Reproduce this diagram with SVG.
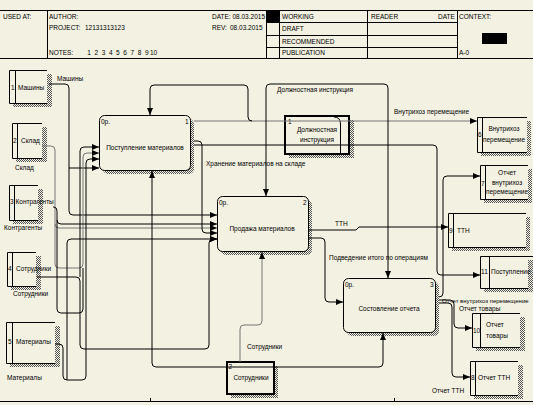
<svg xmlns="http://www.w3.org/2000/svg" width="533" height="405" viewBox="0 0 533 405">
<defs>
<pattern id="h" width="2" height="2" patternUnits="userSpaceOnUse"><rect width="2" height="2" fill="#f3f1e2"/><rect width="1" height="1" fill="#555"/><rect x="1" y="1" width="1" height="1" fill="#555"/></pattern>
<marker id="a" markerWidth="7" markerHeight="6" refX="7" refY="3" orient="auto" markerUnits="userSpaceOnUse"><path d="M0,0 L7,3 L0,6 z" fill="#000"/></marker>
</defs>
<style>
text{font-family:"Liberation Sans",Arial,sans-serif;font-size:6.5px;fill:#000}
.mid{text-anchor:middle}
.ln{fill:none;stroke:#000;stroke-width:1}
.g{stroke:#777}
.ar{marker-end:url(#a)}
.bx{fill:none;stroke:#000;stroke-width:1}
.act{fill:#f3f1e2;stroke:#000;stroke-width:1}
.tk{fill:#f3f1e2;stroke:#000;stroke-width:2}
.sh{fill:url(#h)}
</style>
<rect width="533" height="405" fill="#f3f1e2"/>

<g id="header">
<path class="bx" d="M0,10.5 H533 M0,58.5 H533 M47.5,10 V58 M266.5,10 V58 M279.5,10 V58 M367.5,10 V58 M457.5,10 V58 M266,22.5 H457 M266,35.5 H457 M266,47.5 H457"/>
<rect x="267" y="11" width="12" height="11" fill="#000"/>
<rect x="482" y="33" width="25" height="11" fill="#000"/>
<text x="3" y="18.5">USED AT:</text>
<text x="49" y="18.5">AUTHOR:</text>
<text x="49" y="29.5">PROJECT:</text><text x="85" y="29.5">12131313123</text>
<text x="49" y="55">NOTES:</text>
<text y="55"><tspan x="87.3">1</tspan><tspan x="94.5">2</tspan><tspan x="101.7">3</tspan><tspan x="108.9">4</tspan><tspan x="116.1">5</tspan><tspan x="123.3">6</tspan><tspan x="130.5">7</tspan><tspan x="137.7">8</tspan><tspan x="144.9">9</tspan><tspan x="150">10</tspan></text>
<text x="212" y="18.5" textLength="53" lengthAdjust="spacingAndGlyphs">DATE: 08.03.2015</text>
<text x="212" y="29.5">REV:</text><text x="230" y="29.5">08.03.2015</text>
<text x="282" y="18.5">WORKING</text>
<text x="282" y="31">DRAFT</text>
<text x="282" y="43.5">RECOMMENDED</text>
<text x="282" y="55">PUBLICATION</text>
<text x="371" y="18.5">READER</text>
<text x="438" y="18.5">DATE</text>
<text x="459" y="18.5">CONTEXT:</text>
<text x="459" y="55">A-0</text>
</g>

<g id="ext1">
<rect class="sh" x="47" y="74" width="5" height="33"/><rect class="sh" x="13" y="103" width="39" height="4"/>
<path class="bx" d="M47,70.5 H9.5 V103.5 H47 M15.5,70 V103"/>
<text x="11" y="90">1</text><text x="18" y="90">Машины</text>
<text x="57" y="81">Машины</text>
</g>
<g id="ext2">
<rect class="sh" x="42" y="127" width="5" height="35"/><rect class="sh" x="16" y="158" width="31" height="4"/>
<path class="bx" d="M42,123.5 H12.5 V158.5 H42 M17.5,123 V158"/>
<text x="13" y="143">2</text><text x="21" y="143">Склад</text>
<text x="15" y="170">Склад</text>
</g>
<g id="ext3">
<rect class="sh" x="38" y="189" width="5" height="35"/><rect class="sh" x="13" y="220" width="30" height="4"/>
<path class="bx" d="M38,185.5 H9.5 V220.5 H38 M14.5,185 V220"/>
<text x="10" y="204">3</text><text x="15.5" y="204">Контрагенты</text>
<text x="4" y="230">Контрагенты</text>
</g>
<g id="ext4">
<rect class="sh" x="36" y="256" width="5" height="34"/><rect class="sh" x="11" y="286" width="30" height="4"/>
<path class="bx" d="M36,252.5 H7.5 V286.5 H36 M12.5,252 V286"/>
<text x="8" y="271">4</text><text x="16" y="271">Сотрудники</text>
<text x="13" y="296">Сотрудники</text>
</g>
<g id="ext5">
<rect class="sh" x="55" y="326" width="5" height="41"/><rect class="sh" x="10" y="363" width="50" height="4"/>
<path class="bx" d="M55,322.5 H6.5 V363.5 H55 M12.5,322 V363"/>
<text x="8" y="344">5</text><text x="16" y="344">Материалы</text>
<text x="7" y="380">Материалы</text>
</g>

<g id="ext6">
<rect class="sh" x="527" y="121" width="4" height="35"/><rect class="sh" x="481" y="152" width="50" height="4"/>
<path class="bx" d="M527,117.5 H477.5 V152.5 H527 M482.5,117 V152"/>
<text x="478" y="137">6</text>
<text class="mid" x="504" y="131">Внутрихоз</text><text class="mid" x="504" y="142">перемещение</text>
</g>
<g id="ext7">
<rect class="sh" x="528" y="169" width="4" height="34"/><rect class="sh" x="484" y="199" width="48" height="4"/>
<path class="bx" d="M528,165.5 H480.5 V199.5 H528 M485.5,165 V199"/>
<text x="481" y="186">7</text>
<text class="mid" x="507" y="175">Отчет</text><text class="mid" x="507" y="184.5">внутрихоз</text><text class="mid" x="507" y="194">перемещение</text>
</g>
<g id="ext9">
<rect class="sh" x="526" y="217" width="4" height="34"/><rect class="sh" x="452" y="247" width="78" height="4"/>
<path class="bx" d="M526,213.5 H448.5 V247.5 H526 M453.5,213 V247"/>
<text x="449" y="233">9</text><text x="457" y="233">ТТН</text>
</g>
<g id="ext11">
<rect class="sh" x="528" y="260" width="5" height="32"/><rect class="sh" x="484" y="288" width="49" height="4"/>
<path class="bx" d="M533,256.5 H480.5 V288.5 H528 M489.5,256 V288"/>
<text x="481" y="274">11</text><text x="491" y="274">Поступление</text>
</g>
<g id="ext10">
<rect class="sh" x="520" y="317" width="5" height="34"/><rect class="sh" x="476" y="347" width="49" height="4"/>
<path class="bx" d="M520,313.5 H472.5 V347.5 H520 M480.5,313 V347"/>
<text x="473" y="333">10</text>
<text x="486" y="327">Отчет</text><text x="486" y="338">товары</text>
</g>
<g id="ext8">
<rect class="sh" x="518" y="365" width="5" height="34"/><rect class="sh" x="474" y="395" width="49" height="4"/>
<path class="bx" d="M518,361.5 H470.5 V395.5 H518 M475.5,361 V395"/>
<text x="471" y="380">8</text><text x="478" y="380">Отчет ТТН</text>
</g>

<g id="act1">
<rect class="sh" x="103" y="119" width="91" height="55" rx="5"/>
<rect class="act" x="99.5" y="115.5" width="91" height="55" rx="5"/>
<text x="101" y="124">0р.</text><text x="185" y="124">1</text>
<text class="mid" x="145" y="150">Поступление материалов</text>
</g>
<g id="act2">
<rect class="sh" x="221" y="200" width="91" height="55" rx="5"/>
<rect class="act" x="217.5" y="196.5" width="91" height="55" rx="5"/>
<text x="219" y="205">0р.</text><text x="303" y="205">2</text>
<text class="mid" x="262" y="231">Продажа материалов</text>
</g>
<g id="act3">
<rect class="sh" x="347" y="282" width="92" height="54" rx="5"/>
<rect class="act" x="343.5" y="278.5" width="92" height="54" rx="5"/>
<text x="345" y="287">0р.</text><text x="430" y="287">3</text>
<text class="mid" x="389" y="311">Состовление отчета</text>
</g>
<g id="ref-instr">
<rect class="sh" x="289" y="120" width="65" height="38"/>
<rect class="tk" x="285" y="116" width="64" height="38"/>
<path class="bx" d="M334,117 Q340.5,117 340.5,124 V154"/>
<text x="288" y="124">1</text>
<text class="mid" x="317" y="132">Должностная</text><text class="mid" x="317" y="142">инструкция</text>
</g>
<g id="ref-staff">
<rect class="sh" x="231" y="366" width="47" height="32"/>
<rect class="tk" x="227" y="362" width="47" height="32"/>
<text x="228.5" y="368.5">2</text>
<text class="mid" x="251" y="380">Сотрудники</text>
</g>

<g id="connectors">
<path class="ln ar" d="M49,84 H65 Q69,84 69,88 V211 Q69,215 73,215 H217"/>
<path class="ln ar" d="M69,168 H99"/>
<path class="ln g ar" d="M42,146 H51 Q55,146 55,150 V264 Q55,268 59,268 H79 Q83,268 83,264 V157 Q83,153 87,153 H99"/>
<path class="ln g ar" d="M55,224 Q55,228 59,228 H217"/>
<path class="ln" d="M53,207 H53.5 Q57,207 57,211 V309 Q57,313 61,313 H79 Q83,313 83,309 V268"/>
<path class="ln ar" d="M57,220 Q57,224 61,224 H217"/>
<path class="ln ar" d="M37,277 H76 Q80,277 80,281 V345 Q80,349 84,349 H205 Q209,349 209,345 V243 Q209,239 213,239 H217"/>
<path class="ln ar" d="M80,277 V151 Q80,147 84,147 H99"/>
<path class="ln ar" d="M55,344 H59 Q63,344 63,348 V376 Q63,380 67,380 H82 Q86,380 86,376 V163 Q86,159 90,159 H99"/>
<path class="ln ar" d="M67,380 V243 Q67,239 71,239 H217"/>
<path class="ln ar" d="M194,141 H198 Q202,141 202,145 V229 Q202,233 206,233 H217"/>
<path class="ln g ar" d="M194,121 H477"/>
<path class="ln ar" d="M252,121 Q248,121 248,117 V89 Q248,85 244,85 H154 Q150,85 150,89 V115"/>
<path class="ln ar" d="M266,88 Q266,84 270,84 H384 Q388,84 388,88 V278"/>
<path class="ln ar" d="M266,88 V196"/>
<path class="ln ar" d="M194,145 H433 Q437,145 437,149 V271 Q437,275 441,275 H480"/>
<path class="ln ar" d="M308,230 H356 L359,227 H448"/>
<path class="ln ar" d="M308,238 H321 Q325,238 325,242 V298 Q325,302 329,302 H343"/>
<path class="ln ar" d="M439,297 Q443,297 443,293 V180 Q443,176 447,176 H480"/>
<path class="ln ar" d="M439,300 H450 Q454,300 454,304 V324 Q454,328 458,328 H472"/>
<path class="ln ar" d="M439,303 H448 Q452,303 452,307 V373 Q452,377 456,377 H470"/>
<path class="ln ar" d="M240,367 H379 Q383,367 383,363 V333"/>
<path class="ln ar" d="M240,367 H156 Q152,367 152,363 V171"/>
<path class="ln g ar" d="M240,362 V329 Q240,325 244,325 H258 Q262,325 262,321 V252"/>
<path class="ln" d="M0,401.5 H533 M150.5,398 V401 M394.5,398 V401" stroke="#444"/>
<text x="277" y="92">Должностная инструкция</text>
<text x="394" y="114">Внутрихоз перемещение</text>
<text x="206" y="166">Хранение материалов на складе</text>
<text x="335" y="226">ТТН</text>
<text x="329" y="260">Подведение итого по операциям</text>
<text x="247" y="349">Сотрудники</text>
<text x="442" y="302.5" style="font-size:6px">Отчет внутрихоз перемещение</text>
<text x="459" y="311">Отчет товары</text>
<text x="432" y="393">Отчет ТТН</text>
</g>
</svg>
